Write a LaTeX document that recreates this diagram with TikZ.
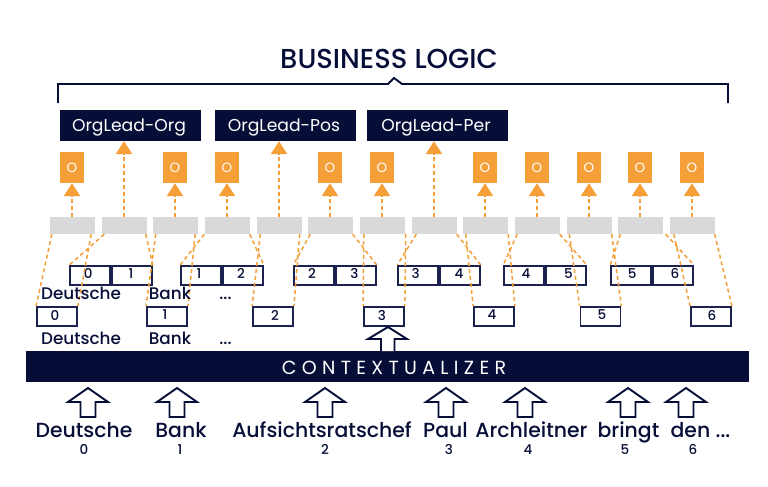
\documentclass[tikz,border=0pt]{standalone}
\usepackage{fontspec}
\setmainfont{Poppins}
\newfontfamily\titlefont{Poppins Medium}
\usetikzlibrary{arrows.meta,calc}
\definecolor{navy}{HTML}{060E38}
\definecolor{boxline}{HTML}{1B2250}
\definecolor{amber}{HTML}{F49F38}
\definecolor{lightgray}{HTML}{D9D9D9}
\tikzset{
  leadbox/.style={fill=navy,text=white,minimum width=141pt,minimum height=31pt,inner sep=0pt,font=\fontsize{17.2}{18}\selectfont},
  outbox/.style={fill=amber,text=white,minimum width=24pt,minimum height=31pt,inner sep=0pt,font=\fontsize{13.5}{14}\selectfont},
  cellbox/.style={fill=lightgray,minimum width=45pt,minimum height=17pt,inner sep=0pt},
  spanbox/.style={draw=boxline,line width=1.8pt,fill=white,minimum width=40pt,minimum height=19pt,inner sep=0pt},
  numlabel/.style={inner sep=0pt,text=navy,font=\titlefont\fontsize{13.5}{14}\selectfont},
  midword/.style={anchor=base,inner sep=0pt,text=navy,font=\titlefont\fontsize{16.8}{18}\selectfont},
  lowword/.style={anchor=base,inner sep=0pt,text=navy,font=\titlefont\fontsize{20.4}{22}\selectfont},
  dashline/.style={amber,line width=1.5pt,dash pattern=on 4pt off 3pt},
  uparrow/.style={amber,line width=2.5pt,dash pattern=on 4pt off 3pt,-{Triangle[width=16pt,length=13pt,sep=0pt]}},
  hollow/.style={draw=navy,line width=1.9pt,fill=white,line join=miter},
}
\begin{document}
\begin{tikzpicture}[x=1pt,y=-1pt]
  \useasboundingbox (0,0) rectangle (768,487);
  % title and bracket
  \node[inner sep=0pt,anchor=base,text=navy,font=\titlefont\fontsize{27.4}{30}\selectfont] (title) at (389,69) {BUSINESS LOGIC};
  \coordinate (bl) at (58,103);
  \coordinate (br) at (728,103);
  \draw[navy,line width=1.9pt] (bl) -- (58,84) -- (388,84) -- (394,78) -- (402,84) -- (728,84) -- (br);
  % labels
  \node[leadbox,text depth=0pt] (lead1) at (130.5,125.5) {\hspace{-3pt}OrgLead-Org};
  \node[leadbox,text depth=0pt] (lead2) at (285.5,125.5) {\hspace{-3pt}OrgLead-Pos};
  \node[leadbox,text depth=0pt] (lead3) at (437.5,125.5) {\hspace{-3pt}OrgLead-Per};
  % grey row
  \foreach \x [count=\i] in {72,124,175,227,279,330,382,434,485,537,589,640,692}
    \node[cellbox] (g\i) at (\x,225.5) {};
  % output boxes
  \foreach \i in {1,3,4,6,7,9,10,11,12,13} {
    \path (g\i) ++(0,-58) node[outbox] (o\i) {O};
    \draw[uparrow] (g\i.north) -- (o\i.south);
  }
  \draw[uparrow] (g2.north) -- (g2.north |- lead1.south);
  \draw[uparrow] (g5.north) -- (g5.north |- lead2.south);
  \draw[uparrow] (g8.north) -- (g8.north |- lead3.south);
  % span pairs
  \foreach \i/\x/\a/\b/\sa/\sb in {1/111/0/1/-2/-1,2/222/1/2/-2/-2,3/335/2/3/-2/-1.5,4/439/3/4/-2.5/-1,5/545/4/5/2/2.5,6/652/5/6/1/2} {
    \node[spanbox,anchor=east] (pa\i) at (\x,275.5) {};
    \node[spanbox,anchor=west] (pb\i) at (\x,275.5) {};
    \node[numlabel] (na\i) at ($(pa\i.center)+(\sa,-2)$) {\a};
    \node[numlabel] (nb\i) at ($(pb\i.center)+(\sb,-2)$) {\b};
  }
  % single spans
  \foreach \i/\x/\s in {0/57/-2,1/167/-2,2/273/2,3/384/-2,4/494/-2,5/600.5/1.5,6/711/1} {
    \node[spanbox] (s\i) at (\x,316.5) {};
    \node[numlabel] (n\i) at ($(s\i.center)+(\s,-1.5)$) {\i};
  }
  % dashed links from the grey row
  \foreach \g/\t/\l/\r in {1/0/2.5/3.5,3/1/3.5/2.5,5/2/4/2,7/3/4.5/-1,9/4/3.5/-.5,11/5/3/0,13/6/4.5/0}
    \draw[dashline] ([xshift=\l pt]g\g.south west) -- (s\t.north west)
      ([xshift=-\r pt]g\g.south east) -- (s\t.north east);
  \foreach \g/\t/\l/\r in {2/1/3/1,4/2/0/0,6/3/3/0,8/4/5/0,10/5/3/0,12/6/3/-3}
    \draw[dashline] ([xshift=\l pt]g\g.south west) -- (pa\t.north west)
      ([xshift=-\r pt]g\g.south east) -- (pb\t.north east);
  % words
  \node[midword] (u0) at (81,299) {Deutsche};
  \node[midword] (u1) at (170,299) {Bank};
  \node[midword] (u2) at (225.5,299) {...};
  \node[midword] (m0) at (81,344) {Deutsche};
  \node[midword] (m1) at (170,344) {Bank};
  \node[midword] (m2) at (225.5,344) {...};
  % contextualizer
  \node[fill=navy,text=white,minimum width=723pt,minimum height=31pt,inner sep=0pt] (ctx) at (387.5,366.5) {};
  \node[inner sep=0pt,text=white,font=\fontsize{19}{20}\selectfont\addfontfeature{LetterSpace=28}] (ctxtext) at (394,367.5) {CONTEXTUALIZER};
  \draw[hollow] (381,351) -- (381,339) -- (368,339) -- (388,327) -- (407,339) -- (394.5,339) -- (394.5,351);
  % bottom row
  \foreach \i/\x in {0/88,1/177,2/325,3/446,4/525,5/628,6/686}
    \draw[hollow] (\x-7.5,417) -- (\x-7.5,402) -- (\x-20,402) -- (\x,388) -- (\x+20,402) -- (\x+7.5,402) -- (\x+7.5,417) -- cycle;
  \foreach \i/\x/\w in {0/84/Deutsche,1/181/Bank,2/322/Aufsichtsratschef,3/445.5/Paul,4/531.5/Archleitner,5/628.5/bringt}
    \node[lowword] (w\i) at (\x,437) {\w};
  \node[lowword] (w6) at (700.5,437) {den ...};
  \foreach \i/\x in {0/84,1/180,2/325,3/449,4/528,5/625,6/693}
    \node[numlabel] (d\i) at (\x,449.5) {\i};
\end{tikzpicture}
\end{document}
